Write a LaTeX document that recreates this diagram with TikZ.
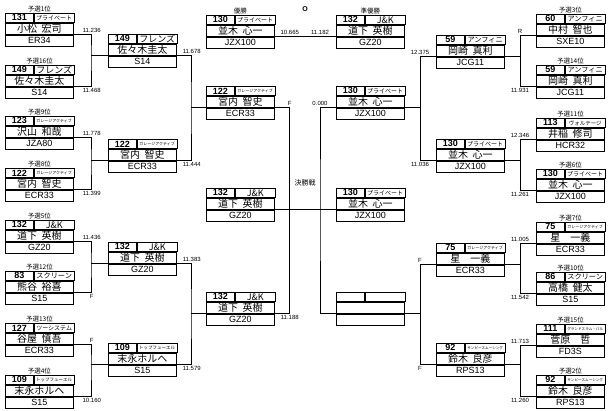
\documentclass[tikz,border=0pt]{standalone}
\usepackage{fontspec}
\setmainfont{Liberation Sans}
\newfontfamily\jp{Noto Sans CJK JP}[WordSpace=2]
\usetikzlibrary{positioning}

\newcommand{\tsize}[1]{\fontsize{#1}{#1}\selectfont}

\tikzset{
  cell/.style={draw, line width=0.8pt, inner sep=0pt, anchor=north west},
  numcell/.style={cell, minimum width=28pt, minimum height=9pt, font=\bfseries\tsize{9}},
  teamcell/.style={cell, minimum width=40pt, minimum height=9pt, font=\jp\tsize{9}},
  namecell/.style={cell, minimum width=68pt, minimum height=11pt, font=\jp\tsize{10}},
  carcell/.style={cell, minimum width=68pt, minimum height=11pt, font=\tsize{9}},
  rank/.style={inner sep=1pt, font=\jp\tsize{6.5}},
  tm/.style={inner sep=1.5pt, font=\tsize{6}},
  wire/.style={line width=0.8pt},
}

% one racer box: id, x, y (top), number, team, driver, car
\newcommand{\racer}[7]{%
  \node[numcell] (#1-n) at (#2,#3) {#4};
  \node[teamcell] (#1-t) at (#1-n.north east) {#5};
  \node[namecell] (#1-d) at (#1-n.south west) {#6};
  \node[carcell] (#1-c) at (#1-d.south west) {#7};
  \coordinate (#1-w) at (#1-c.north west);
  \coordinate (#1-e) at (#1-c.north east);
  \coordinate (#1-top) at (#1-d.north |- #1-n.north);
}

\begin{document}
\begin{tikzpicture}[x=1pt, y=-1pt]
\useasboundingbox (0,0) rectangle (610,411);

% qualifying, left
\foreach \id/\y/\nr/\team/\drv/\car in {
    L1/13/131/{\tsize{6}プライベート}/小松 宏司/ER34,
    L2/65/149/フレンズ/佐々木圭太/S14,
    L3/116/123/{\tsize{4}ガレージアクティブ}/沢山 和哉/JZA80,
    L4/168/122/{\tsize{4}ガレージアクティブ}/宮内 智史/ECR33,
    L5/220/132/J\&K/道下 英樹/GZ20,
    L6/271/83/{\tsize{7.2}スクリーン}/熊谷 裕喜/S15,
    L7/323/127/{\tsize{6}ツーシステム}/谷屋 慎吾/ECR33,
    L8/375/109/{\tsize{4.5}トップフューエル}/末永ホルヘ/S15}
  \racer{\id}{5}{\y}{\nr}{\team}{\drv}{\car};

% qualifying, right
\foreach \id/\y/\nr/\team/\drv/\car in {
    R1/14/60/{\tsize{7.2}アンフィニ}/中村 智也/SXE10,
    R2/65/59/{\tsize{7.2}アンフィニ}/岡崎 真利/JCG11,
    R3/118/113/{\tsize{5.5}ヴォルテージ}/井稲 修司/HCR32,
    R4/169/130/{\tsize{6}プライベート}/並木 心一/JZX100,
    R5/222/75/{\tsize{4}ガレージアクティブ}/星　一義/ECR33,
    R6/272/86/{\tsize{7.2}スクリーン}/高橋 健太/S15,
    R7/324/111/{\tsize{3.6}グランドスラム・パル}/菅原　哲/FD3S,
    R8/375/92/{\tsize{3.6}サンビースムーシング}/鈴木 良彦/RPS13}
  \racer{\id}{536}{\y}{\nr}{\team}{\drv}{\car};

% best 8
\foreach \id/\x/\y/\nr/\team/\drv/\car in {
    Q1/108/34/149/フレンズ/佐々木圭太/S14,
    Q2/108/139/122/{\tsize{4}ガレージアクティブ}/宮内 智史/ECR33,
    Q3/108/242/132/J\&K/道下 英樹/GZ20,
    Q4/108/343/109/{\tsize{4.5}トップフューエル}/末永ホルヘ/S15,
    Q5/436/35/59/{\tsize{7.2}アンフィニ}/岡崎 真利/JCG11,
    Q6/436/139/130/{\tsize{6}プライベート}/並木 心一/JZX100,
    Q7/436/243/75/{\tsize{4}ガレージアクティブ}/星　一義/ECR33,
    Q8/436/343/92/{\tsize{3.6}サンビースムーシング}/鈴木 良彦/RPS13}
  \racer{\id}{\x}{\y}{\nr}{\team}{\drv}{\car};

% best 4, final, result
\racer{S1}{206}{86}{122}{\tsize{4}ガレージアクティブ}{宮内 智史}{ECR33}
\racer{S2}{206}{292}{132}{J\&K}{道下 英樹}{GZ20}
\racer{S3}{336}{86}{130}{\tsize{6}プライベート}{並木 心一}{JZX100}
\racer{S4}{336}{292}{}{}{}{}
\racer{F1}{206}{188}{132}{J\&K}{道下 英樹}{GZ20}
\racer{F2}{336}{188}{130}{\tsize{6}プライベート}{並木 心一}{JZX100}
\racer{C1}{206}{15}{130}{\tsize{6}プライベート}{並木 心一}{JZX100}
\racer{C2}{336}{15}{132}{J\&K}{道下 英樹}{GZ20}

\foreach \b/\rk in {L1/1, L2/16, L3/9, L4/8, L5/5, L6/12, L7/13, L8/4,
    R1/3, R2/14, R3/11, R4/6, R5/7, R6/10, R7/15, R8/2}
  \node[rank, above=0pt of \b-top] (rk-\b) {予選{\rk}位};
\node[rank, above=0pt of C1-top] (win) {優勝};
\node[rank, above=0pt of C2-top] (second) {準優勝};
\node[rank, font=\bfseries\tsize{7}] (mark) at (305,9) {O};
\node[rank, font=\jp\tsize{7}] (final) at (305,183) {決勝戦};

% brackets
\foreach \a/\b/\p in {L1/L2/Q1, L3/L4/Q2, L5/L6/Q3, L7/L8/Q4} {
  \draw[wire] (\a-e) -| ([xshift=-17pt]\p-w) |- (\b-e);
  \draw[wire] ([xshift=-17pt]\p-w) -- (\p-w);
}
\foreach \a/\b/\p in {R1/R2/Q5, R3/R4/Q6, R5/R6/Q7, R7/R8/Q8} {
  \draw[wire] (\a-w) -| ([xshift=16pt]\p-e) |- (\b-w);
  \draw[wire] ([xshift=16pt]\p-e) -- (\p-e);
}
\foreach \a/\b/\p in {Q1/Q2/S1, Q3/Q4/S2} {
  \draw[wire] (\a-e) -| ([xshift=-15pt]\p-w) |- (\b-e);
  \draw[wire] ([xshift=-15pt]\p-w) -- (\p-w);
}
\foreach \a/\b/\p in {Q5/Q6/S3, Q7/Q8/S4} {
  \draw[wire] (\a-w) -| ([xshift=16pt]\p-e) |- (\b-w);
  \draw[wire] ([xshift=16pt]\p-e) -- (\p-e);
}
\draw[wire] (S1-e) -| ([xshift=15pt]F1-e) |- (S2-e);
\draw[wire] (S3-w) -| ([xshift=-16pt]F2-w) |- (S4-w);
\draw[wire] (F1-e) -- (F2-w);
\draw[wire] (C1-e) -- (C2-w);

% times
\foreach \b/\sh/\val/\an in {L1/18/11.236/south, L2/18/11.468/north,
    L3/18/11.778/south, L4/18/11.399/north, L5/18/11.436/south,
    L6/18/F/north, L7/18/F/south, L8/18/10.160/north,
    Q1/15/11.678/south, Q2/15/11.444/north, Q3/15/11.383/south,
    Q4/15/11.579/north, S1/15/F/south, S2/15/11.188/north, C1/15/10.665/south}
  \node[tm, anchor=\an] (tm-\b) at ([xshift=\sh pt]\b-e) {\val};
\foreach \b/\sh/\val/\an in {R1/16/R/south, R2/16/11.931/north,
    R3/16/12.346/south, R4/16/11.261/north, R5/16/11.005/south,
    R6/16/11.542/north, R7/16/11.713/south, R8/16/11.260/north,
    Q5/16/12.375/south, Q6/16/11.036/north, Q7/16/F/south,
    Q8/16/F/north, S3/16/0.000/south, C2/16/11.182/south}
  \node[tm, anchor=\an] (tm-\b) at ([xshift=-\sh pt]\b-w) {\val};
\end{tikzpicture}
\end{document}
